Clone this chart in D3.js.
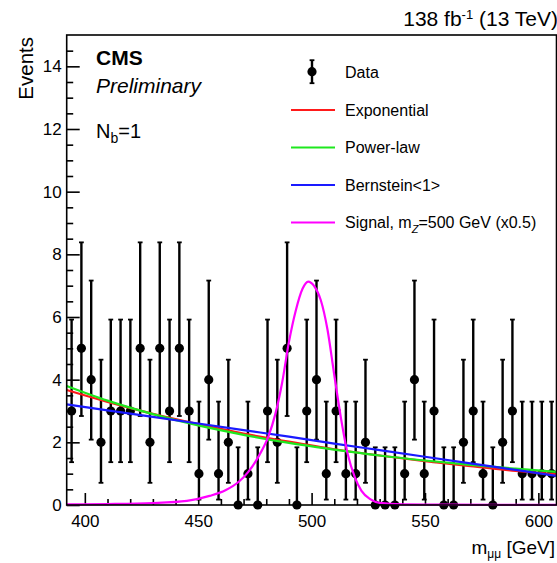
<!DOCTYPE html>
<html><head><meta charset="utf-8">
<script src="https://cdn.jsdelivr.net/npm/d3@7"></script>
<style>
body{margin:0;background:#fff}
svg{display:block;font-family:"Liberation Sans",Arial,Helvetica,sans-serif}
</style>
</head><body>
<svg id="c" width="557" height="563"></svg>
<script>
// ---------- data ----------
const massRange = [392, 608];        // fit window in GeV
const nBins = 50;
const counts = [3,5,4,2,3,3,3,5,2,5,3,5,3,1,4,1,2,0,1,0,3,2,5,0,3,
                4,1,3,1,1,2,0,0,0,1,4,1,3,0,0,2,3,1,0,2,3,1,1,1,1];
// Garwood 68% Poisson interval bounds indexed by count
const poissonLow  = [0, 0.173, 0.708, 1.367, 2.086, 2.840];
const poissonHigh = [1.841, 3.300, 4.638, 5.918, 7.163, 8.382];

const bkgMass   = [392, 410, 430, 450, 470, 490, 510, 530, 550, 570, 590, 608];
const expValues = [3.67, 3.29, 2.91, 2.58, 2.28, 2.02, 1.78, 1.58, 1.40, 1.24, 1.09, 0.98];
const powValues = [3.80, 3.33, 2.90, 2.54, 2.24, 1.98, 1.77, 1.58, 1.42, 1.28, 1.16, 1.06];
const bernValues= [3.21, 3.02, 2.81, 2.60, 2.39, 2.18, 1.96, 1.75, 1.54, 1.33, 1.12, 0.93];

const sigMass   = [392, 410, 430, 445, 455, 462, 468, 472, 477, 481, 484, 487, 490, 493, 496, 498.5,
                   501, 504, 507, 510, 513, 516, 519, 522, 526, 530, 540, 560, 608];
const sigValues = [0.02, 0.03, 0.06, 0.13, 0.29, 0.47, 0.75, 1.05, 1.6, 2.2, 2.9, 3.9, 5.2, 6.2, 6.9, 7.13,
                   7.0, 6.55, 5.6, 4.15, 2.75, 1.6, 0.9, 0.45, 0.18, 0.07, 0.02, 0.01, 0.005];

const xTicks = [400, 450, 500, 550, 600];
const xMinorTicks = [410,420,430,440,460,470,480,490,510,520,530,540,560,570,580,590];
const yTicks = [0, 2, 4, 6, 8, 10, 12, 14];
const yMinorTicks = [0.5,1,1.5,2.5,3,3.5,4.5,5,5.5,6.5,7,7.5,8.5,9,9.5,10.5,11,11.5,12.5,13,13.5,14.5];

const legendNames = ["Data", "Exponential", "Power-law", "Bernstein<1>", "Signal"];
const lineColors = {exp:"#ff1a1a", pow:"#1ee81e", bern:"#1a1aff", sig:"#ff00ff"};

// ---------- layout ----------
const svg = d3.select("#c");
const L = 66.7, R = 556.5, T = 35, B = 505;
const x = d3.scaleLinear().domain(massRange).range([L, R]);
const y = d3.scaleLinear().domain([0, 15]).range([B, T]);
const binW = (massRange[1] - massRange[0]) / nBins;
const data = counts.map((c, i) => ({m: massRange[0] + (i + 0.5) * binW, n: c}));

// axes
const fs = "17px";
const gx = svg.append("g").attr("transform", `translate(0,${B})`)
  .call(d3.axisBottom(x).tickValues(xTicks).tickSize(-12).tickPadding(10).tickFormat(d3.format("d")));
const gxm = svg.append("g").attr("transform", `translate(0,${B})`)
  .call(d3.axisBottom(x).tickValues(xMinorTicks).tickSize(-6).tickFormat(""));
const gy = svg.append("g").attr("transform", `translate(${L},0)`)
  .call(d3.axisLeft(y).tickValues(yTicks).tickSize(-13).tickPadding(5).tickFormat(d3.format("d")));
const gym = svg.append("g").attr("transform", `translate(${L},0)`)
  .call(d3.axisLeft(y).tickValues(yMinorTicks).tickSize(-6.5).tickFormat(""));
[gx, gxm, gy, gym].forEach(g => {
  g.select(".domain").remove();
  g.selectAll("line").attr("stroke", "#000").attr("stroke-width", 1.6);
  g.selectAll("text").attr("font-size", fs).attr("fill", "#000")
    .attr("font-family", "Liberation Sans, Arial, sans-serif");
});

// data points
const pts = svg.append("g");
data.forEach(d => {
  const lo = poissonLow[d.n], hi = poissonHigh[d.n];
  const cx = x(d.m);
  pts.append("line").attr("x1", cx).attr("x2", cx).attr("y1", y(lo)).attr("y2", y(hi))
    .attr("stroke", "#000").attr("stroke-width", 2.4);
  [lo, hi].forEach(v => {
    if (v > 0) pts.append("line").attr("x1", cx - 2.4).attr("x2", cx + 2.4)
      .attr("y1", y(v)).attr("y2", y(v)).attr("stroke", "#000").attr("stroke-width", 1.8);
  });
  pts.append("circle").attr("cx", cx).attr("cy", y(d.n)).attr("r", 4.6).attr("fill", "#000");
});

// curves
const line = d3.line().x(d => x(d[0])).y(d => y(d[1])).curve(d3.curveMonotoneX);
function drawCurve(ms, vs, col) {
  svg.append("path").attr("d", line(ms.map((m, i) => [m, vs[i]])))
    .attr("fill", "none").attr("stroke", col).attr("stroke-width", 2.2);
}
drawCurve(bkgMass, expValues, lineColors.exp);
drawCurve(bkgMass, powValues, lineColors.pow);
drawCurve(bkgMass, bernValues, lineColors.bern);
drawCurve(sigMass, sigValues, lineColors.sig);

// frame
svg.append("rect").attr("x", L).attr("y", T).attr("width", R - L).attr("height", B - T)
  .attr("fill", "none").attr("stroke", "#000").attr("stroke-width", 1.6);

// texts
svg.append("text").attr("x", 558).attr("y", 26).attr("text-anchor", "end").attr("font-size", "21px")
  .html('138 fb<tspan dy="-7" font-size="13px">-1</tspan><tspan dy="7"> (13 TeV)</tspan>');
svg.append("text").attr("transform", "translate(33,37) rotate(-90)").attr("text-anchor", "end")
  .attr("font-size", "20.5px").text("Events");
svg.append("text").attr("x", 555).attr("y", 554).attr("text-anchor", "end").attr("font-size", "19px")
  .html('m<tspan dy="4" font-size="12px">μμ</tspan><tspan dy="-4"> [GeV]</tspan>');
svg.append("text").attr("x", 96).attr("y", 64.5).attr("font-size", "21px").attr("font-weight", "bold").text("CMS");
svg.append("text").attr("x", 96).attr("y", 93).attr("font-size", "21px").attr("font-style", "italic").text("Preliminary");
svg.append("text").attr("x", 96).attr("y", 138).attr("font-size", "20px")
  .html('N<tspan dy="5" font-size="14px">b</tspan><tspan dy="-5">=1</tspan>');

// legend
const lg = svg.append("g");
const legY = [71.7, 110, 147.5, 185, 222.5];
const lx0 = 291, lx1 = 335, tx = 345;
lg.append("line").attr("x1", 312).attr("x2", 312).attr("y1", legY[0] - 11.5).attr("y2", legY[0] + 11.5)
  .attr("stroke", "#000").attr("stroke-width", 2.4);
[-11.5, 11.5].forEach(o => lg.append("line").attr("x1", 309.6).attr("x2", 314.4)
  .attr("y1", legY[0] + o).attr("y2", legY[0] + o).attr("stroke", "#000").attr("stroke-width", 1.8));
lg.append("circle").attr("cx", 312).attr("cy", legY[0]).attr("r", 4.6).attr("fill", "#000");
const cols = [null, lineColors.exp, lineColors.pow, lineColors.bern, lineColors.sig];
for (let i = 1; i < 5; i++) {
  lg.append("line").attr("x1", lx0).attr("x2", lx1).attr("y1", legY[i]).attr("y2", legY[i])
    .attr("stroke", cols[i]).attr("stroke-width", 2.2);
}
for (let i = 0; i < 4; i++) {
  lg.append("text").attr("x", tx).attr("y", legY[i] + 5.8).attr("font-size", "16px").text(legendNames[i]);
}
lg.append("text").attr("x", tx).attr("y", legY[4] + 5.8).attr("font-size", "16px")
  .html(legendNames[4] + ', m<tspan dy="5" font-size="11px" font-style="italic">Z</tspan><tspan dy="-5">=500 GeV (x0.5)</tspan>');
</script>
</body></html>
